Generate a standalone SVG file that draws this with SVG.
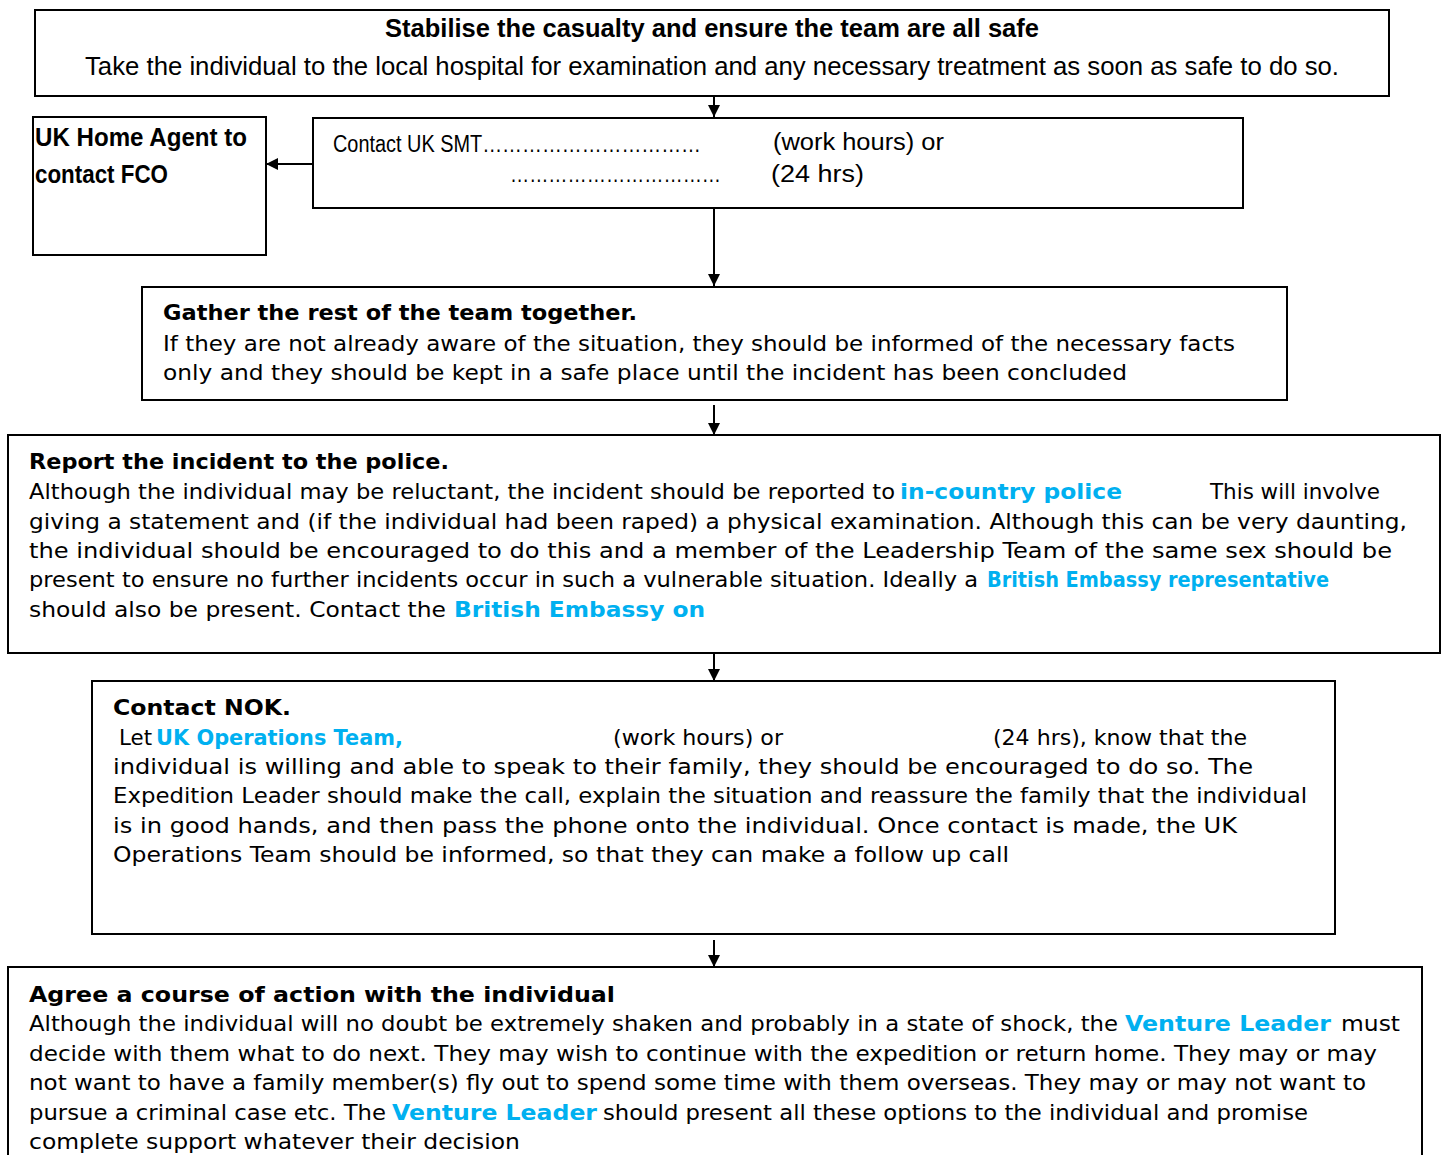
<svg xmlns="http://www.w3.org/2000/svg" width="1444" height="1155" viewBox="0 0 1444 1155">
<style>
.box{fill:#fff;stroke:#000;stroke-width:2}
.c{stroke:#000;stroke-width:2;fill:none}
text{fill:#000}
.l{font-family:"Liberation Sans",Arial,sans-serif;font-size:25px}
.s{font-family:"Liberation Sans",Arial,sans-serif;font-size:23px}
.v{font-family:"DejaVu Sans",Verdana,sans-serif;font-size:22px}
.bd{font-weight:bold}
.bl{fill:#00b0f0;font-weight:bold}
</style>
<defs>
<marker id="ah" markerUnits="userSpaceOnUse" markerWidth="12" markerHeight="14" refX="12" refY="6" orient="auto">
<path d="M0,0 L12,6 L0,12 Z" fill="#000"/>
</marker>
</defs>
<rect width="1444" height="1155" fill="#fff"/>

<g id="connectors">
<line class="c" x1="714" y1="88" x2="714" y2="117" marker-end="url(#ah)"/>
<line class="c" x1="313" y1="164" x2="266" y2="164" marker-end="url(#ah)"/>
<line class="c" x1="714" y1="208" x2="714" y2="286" marker-end="url(#ah)"/>
<line class="c" x1="714" y1="405" x2="714" y2="435" marker-end="url(#ah)"/>
<line class="c" x1="714" y1="653" x2="714" y2="681" marker-end="url(#ah)"/>
<line class="c" x1="714" y1="940" x2="714" y2="967" marker-end="url(#ah)"/>
</g>

<g id="stabilise">
<rect class="box" x="35" y="10" width="1354" height="86"/>
<text class="l bd" x="385" y="37" textLength="654" lengthAdjust="spacingAndGlyphs">Stabilise the casualty and ensure the team are all safe</text>
<text class="l" x="85" y="75" textLength="1254" lengthAdjust="spacingAndGlyphs">Take the individual to the local hospital for examination and any necessary treatment as soon as safe to do so.</text>
</g>

<g id="home-agent">
<rect class="box" x="33" y="117" width="233" height="138"/>
<text class="l bd" x="35" y="146" textLength="212" lengthAdjust="spacingAndGlyphs">UK Home Agent to</text>
<text class="l bd" x="35" y="183" textLength="133" lengthAdjust="spacingAndGlyphs">contact FCO</text>
</g>

<g id="contact-smt">
<rect class="box" x="313" y="118" width="930" height="90"/>
<text class="s" x="333" y="152" textLength="368" lengthAdjust="spacingAndGlyphs">Contact UK SMT……………………………</text>
<text class="s" x="773" y="150" textLength="171" lengthAdjust="spacingAndGlyphs">(work hours) or</text>
<text class="s" x="510" y="182" textLength="211" lengthAdjust="spacingAndGlyphs">……………………………</text>
<text class="s" x="771" y="182" textLength="93" lengthAdjust="spacingAndGlyphs">(24 hrs)</text>
</g>

<g id="gather">
<rect class="box" x="142" y="287" width="1145" height="113"/>
<text class="v bd" x="163" y="320" textLength="474" lengthAdjust="spacingAndGlyphs">Gather the rest of the team together.</text>
<text class="v" x="163" y="351" textLength="1072" lengthAdjust="spacingAndGlyphs">If they are not already aware of the situation, they should be informed of the necessary facts</text>
<text class="v" x="163" y="380" textLength="964" lengthAdjust="spacingAndGlyphs">only and they should be kept in a safe place until the incident has been concluded</text>
</g>

<g id="report">
<rect class="box" x="8" y="435" width="1432" height="218"/>
<text class="v bd" x="29" y="469" textLength="420" lengthAdjust="spacingAndGlyphs">Report the incident to the police.</text>
<text class="v" x="29" y="499" textLength="866" lengthAdjust="spacingAndGlyphs">Although the individual may be reluctant, the incident should be reported to</text>
<text class="v bl" x="900" y="499" textLength="222" lengthAdjust="spacingAndGlyphs">in-country police</text>
<text class="v" x="1210" y="499" textLength="170" lengthAdjust="spacingAndGlyphs">This will involve</text>
<text class="v" x="29" y="529" textLength="1378" lengthAdjust="spacingAndGlyphs">giving a statement and (if the individual had been raped) a physical examination.  Although this can be very daunting,</text>
<text class="v" x="29" y="558" textLength="1363" lengthAdjust="spacingAndGlyphs">the individual should be encouraged to do this and a member of the Leadership Team of the same sex should be</text>
<text class="v" x="29" y="587" textLength="949" lengthAdjust="spacingAndGlyphs">present to ensure no further incidents occur in such a vulnerable situation. Ideally a</text>
<text class="v bl" x="987" y="587" textLength="342" lengthAdjust="spacingAndGlyphs">British Embassy representative</text>
<text class="v" x="29" y="617" textLength="417" lengthAdjust="spacingAndGlyphs">should also be present. Contact the</text>
<text class="v bl" x="454" y="617" textLength="251" lengthAdjust="spacingAndGlyphs">British Embassy on</text>
</g>

<g id="contact-nok">
<rect class="box" x="92" y="681" width="1243" height="253"/>
<text class="v bd" x="113" y="715" textLength="178" lengthAdjust="spacingAndGlyphs">Contact NOK.</text>
<text class="v" x="119" y="745" textLength="33" lengthAdjust="spacingAndGlyphs">Let</text>
<text class="v bl" x="156" y="745" textLength="247" lengthAdjust="spacingAndGlyphs">UK Operations Team,</text>
<text class="v" x="613" y="745" textLength="170" lengthAdjust="spacingAndGlyphs">(work hours) or</text>
<text class="v" x="993" y="745" textLength="254" lengthAdjust="spacingAndGlyphs">(24 hrs), know that the</text>
<text class="v" x="113" y="774" textLength="1140" lengthAdjust="spacingAndGlyphs">individual is willing and able to speak to their family, they should be encouraged to do so. The</text>
<text class="v" x="113" y="803" textLength="1194" lengthAdjust="spacingAndGlyphs">Expedition Leader should make the call, explain the situation and reassure the family that the individual</text>
<text class="v" x="113" y="833" textLength="1124" lengthAdjust="spacingAndGlyphs">is in good hands, and then pass the phone onto the individual. Once contact is made, the UK</text>
<text class="v" x="113" y="862" textLength="896" lengthAdjust="spacingAndGlyphs">Operations Team should be informed, so that they can make a follow up call</text>
</g>

<g id="agree">
<path class="box" d="M8,1156 V967 H1422 V1156"/>
<text class="v bd" x="29" y="1002" textLength="586" lengthAdjust="spacingAndGlyphs">Agree a course of action with the individual</text>
<text class="v" x="29" y="1031" textLength="1089" lengthAdjust="spacingAndGlyphs">Although the individual will no doubt be extremely shaken and probably in a state of shock, the</text>
<text class="v bl" x="1125" y="1031" textLength="206" lengthAdjust="spacingAndGlyphs">Venture Leader</text>
<text class="v" x="1341" y="1031" textLength="59" lengthAdjust="spacingAndGlyphs">must</text>
<text class="v" x="29" y="1061" textLength="1348" lengthAdjust="spacingAndGlyphs">decide with them what to do next.  They may wish to continue with the expedition or return home.  They may or  may</text>
<text class="v" x="29" y="1090" textLength="1337" lengthAdjust="spacingAndGlyphs">not want to have a family member(s) fly out to spend some time with them overseas.  They may or may not want  to</text>
<text class="v" x="29" y="1120" textLength="357" lengthAdjust="spacingAndGlyphs">pursue a criminal case etc.  The</text>
<text class="v bl" x="392" y="1120" textLength="205" lengthAdjust="spacingAndGlyphs">Venture Leader</text>
<text class="v" x="603" y="1120" textLength="705" lengthAdjust="spacingAndGlyphs">should present all these options to the individual and promise</text>
<text class="v" x="29" y="1149" textLength="491" lengthAdjust="spacingAndGlyphs">complete support whatever their decision</text>
</g>
</svg>
